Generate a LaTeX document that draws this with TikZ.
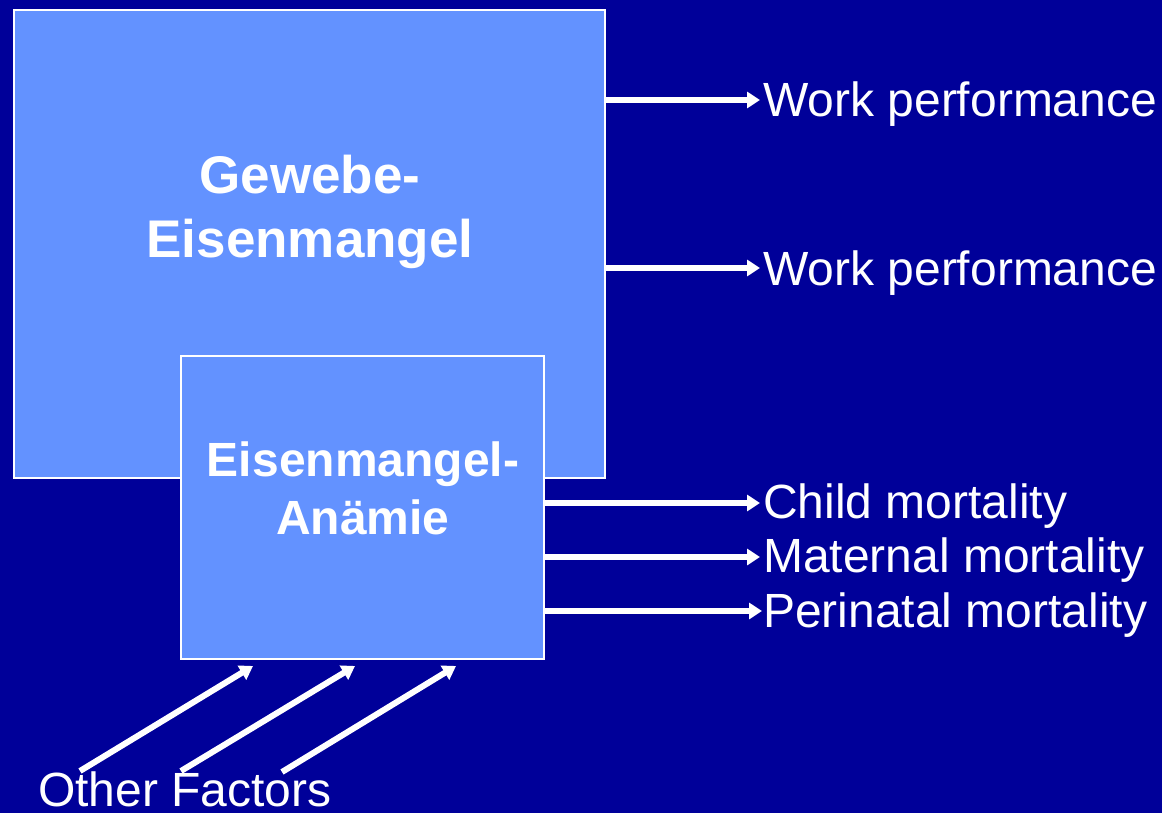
\documentclass[tikz,border=0pt]{standalone}
\usepackage{fontspec}
\setmainfont{Liberation Sans}
\usetikzlibrary{arrows.meta}
\definecolor{bg}{RGB}{0,0,153}
\definecolor{boxfill}{RGB}{99,146,255}
\begin{document}
\begin{tikzpicture}[x=1pt,y=-1pt,
  box/.style={draw=white,line width=2pt,fill=boxfill},
  arr/.style={white,line width=6pt,-{Triangle[length=13pt,width=16pt]}},
  lbl/.style={text=white,font=\fontsize{48}{52}\selectfont,anchor=base west,inner sep=0pt},
  boxtext/.style={text=white,align=center,inner sep=0pt}]
\fill[bg] (0,0) rectangle (1162,813);
\useasboundingbox (0,0) rectangle (1162,813);
\draw[box] (14,10) rectangle (605,478);
\draw[box] (181,356) rectangle (544,659);
\node[boxtext,font=\bfseries\fontsize{53}{64}\selectfont] (gew) at (310,212) {Gewebe-\\Eisenmangel};
\node[boxtext,font=\bfseries\fontsize{48}{58}\selectfont] (ane) at (363,488) {Eisenmangel-\\Anämie};
\node[lbl] (w1) at (763,117) {Work performance};
\node[lbl] (w2) at (763,285) {Work performance};
\node[lbl] (c1) at (763,518) {Child mortality};
\node[lbl] (c2) at (763,572) {Maternal mortality};
\node[lbl] (c3) at (763,627) {Perinatal mortality};
\node[lbl] (of) at (38,806) {Other Factors};
\coordinate (s1) at (605,100); \coordinate (s2) at (605,268);
\coordinate (s3) at (544,503); \coordinate (s4) at (544,557); \coordinate (s5) at (544,611);
\draw[arr] (s1) -- (760,100);
\draw[arr] (s2) -- (760,268);
\draw[arr] (s3) -- (760,503);
\draw[arr] (s4) -- (760,557);
\draw[arr] (s5) -- (762,611);
\coordinate (o1) at (80,771); \coordinate (o2) at (181,771); \coordinate (o3) at (282,772);
\draw[arr] (o1) -- (253,666);
\draw[arr] (o2) -- (355,666);
\draw[arr] (o3) -- (456,666);
\end{tikzpicture}
\end{document}
